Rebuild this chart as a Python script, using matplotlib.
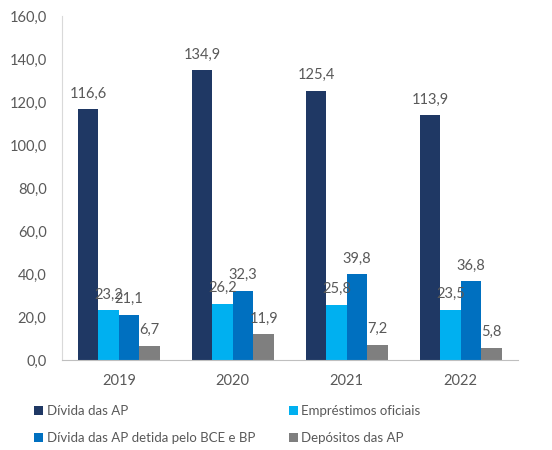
import matplotlib
matplotlib.use("Agg")
import matplotlib.pyplot as plt
import numpy as np

years = ["2019", "2020", "2021", "2022"]
divida_ap = [116.6, 134.9, 125.4, 113.9]
emprestimos = [23.2, 26.2, 25.8, 23.5]
divida_bce_bp = [21.1, 32.3, 39.8, 36.8]
depositos = [6.7, 11.9, 7.2, 5.8]

series = [
    ("Dívida das AP", divida_ap, "#1F3864"),
    ("Empréstimos oficiais", emprestimos, "#00B0F0"),
    ("Dívida das AP detida pelo BCE e BP", divida_bce_bp, "#0070C0"),
    ("Depósitos das AP", depositos, "#7F7F7F"),
]

plt.rcParams["font.family"] = ["Lato", "DejaVu Sans"]
text_color = "#595959"
fs = 10.5

fig = plt.figure(figsize=(5.52, 4.5), dpi=100)
ax = fig.add_axes([0.112, 0.2, 0.826, 0.764])

x = np.arange(len(years))
width = 0.18
handles = []
for i, (name, vals, color) in enumerate(series):
    pos = x + (i - 1.5) * width
    bars = ax.bar(pos, vals, width, color=color, label=name)
    handles.append(bars)
    for p, v in zip(pos, vals):
        ax.annotate(f"{v:.1f}".replace(".", ","), (p, v), xytext=(0, 6),
                    textcoords="offset points", ha="center", va="bottom",
                    fontsize=fs, color=text_color)

ax.set_xlim(-0.5, len(years) - 0.5)
ax.set_ylim(0, 160)
ax.set_yticks(np.arange(0, 161, 20))
ax.set_yticklabels([f"{t:.1f}".replace(".", ",") for t in np.arange(0, 161, 20)])
ax.set_xticks(x)
ax.set_xticklabels(years)
ax.tick_params(axis="both", length=0, colors=text_color, labelsize=fs)
ax.tick_params(axis="y", pad=11)
ax.tick_params(axis="x", pad=10)

for s in ["top", "right"]:
    ax.spines[s].set_visible(False)
ax.spines["left"].set_color("#D9D9D9")
ax.spines["bottom"].set_color("#BFBFBF")

order = [0, 2, 1, 3]
leg = fig.legend([handles[i] for i in order], [series[i][0] for i in order],
                 ncol=2, loc="upper left", bbox_to_anchor=(0.062, 0.1),
                 frameon=False, fontsize=9.5, handlelength=0.7, handleheight=0.7,
                 handletextpad=0.25, columnspacing=2.55, labelspacing=1.15,
                 borderaxespad=0, borderpad=0)
for t in leg.get_texts():
    t.set_color(text_color)

fig.savefig("out.png", dpi=100)
